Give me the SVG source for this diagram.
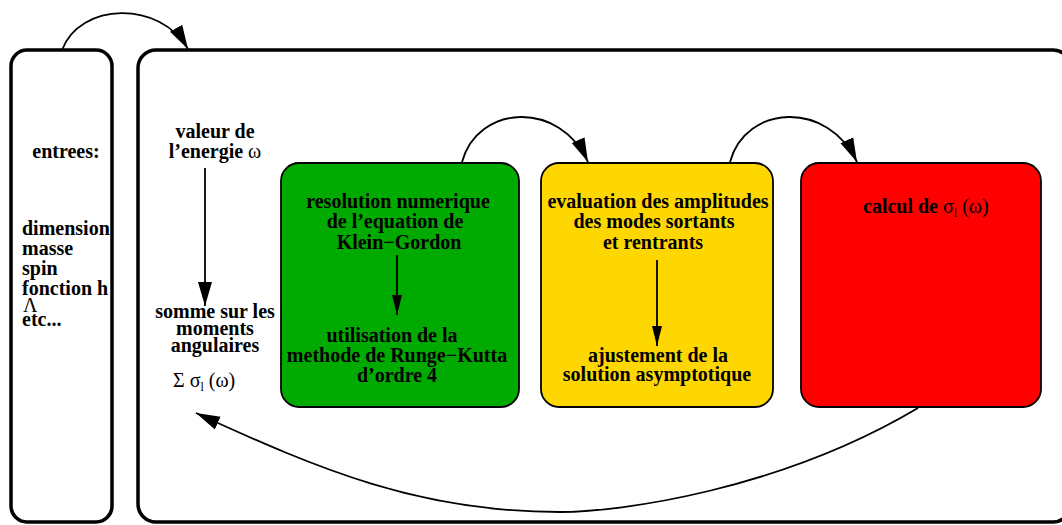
<svg xmlns="http://www.w3.org/2000/svg" width="1062" height="525" viewBox="0 0 1062 525">
<style>
.frame{fill:#fff;stroke:#000;stroke-width:3.5}
.box{stroke:#000;stroke-width:1.8}
.t{font-family:"Liberation Serif","Times New Roman",serif;font-weight:bold;font-size:20px;fill:#000}
.c{text-anchor:middle}
.n{font-weight:normal}
.conn{fill:none;stroke:#000;stroke-width:1.8}
</style>
<defs>
<marker id="big" markerWidth="26" markerHeight="16" refX="24" refY="8" orient="auto" markerUnits="userSpaceOnUse">
<path d="M0,1 L24,8 L0,15 Z" fill="#000"/>
</marker>
<marker id="small" markerWidth="20" markerHeight="10" refX="20" refY="5" orient="auto" markerUnits="userSpaceOnUse">
<path d="M0,0 L20,5 L0,10 Z" fill="#000"/>
</marker>
</defs>
<g id="entrees">
<rect class="frame" x="11" y="50" width="101" height="472" rx="16"/>
<text class="t c" x="66" y="158">entrees:</text>
<text class="t" x="22" y="235">dimension</text>
<text class="t" x="22" y="255">masse</text>
<text class="t" x="22" y="275">spin</text>
<text class="t" x="22" y="295">fonction h</text>
<text class="t n" x="23" y="312" font-size="13">Λ</text>
<text class="t" x="22" y="326">etc...</text>
</g>
<g id="main">
<rect class="frame" x="138" y="50" width="933" height="472" rx="18"/>
<text class="t c" x="215" y="138">valeur de</text>
<text class="t c" x="215" y="158">l’energie <tspan class="n">ω</tspan></text>
<text class="t c" x="215" y="318">somme sur les</text>
<text class="t c" x="215" y="335">moments</text>
<text class="t c" x="215" y="352">angulaires</text>
<text class="t n" x="173" y="387">Σ  σ<tspan font-size="12" dy="4">l</tspan><tspan dy="-4"> (ω)</tspan></text>
</g>
<g id="resolution">
<rect class="box" x="281" y="163" width="238" height="244" rx="18" fill="#00aa00"/>
<text class="t c" x="398" y="208">resolution numerique</text>
<text class="t c" x="395" y="228">de l’equation de</text>
<text class="t c" x="399" y="249">Klein−Gordon</text>
<text class="t c" x="392" y="342">utilisation de la</text>
<text class="t c" x="397" y="362">methode de Runge−Kutta</text>
<text class="t c" x="397" y="382">d’ordre 4</text>
</g>
<g id="evaluation">
<rect class="box" x="541" y="163" width="232" height="244" rx="18" fill="#ffd700"/>
<text class="t c" x="658" y="208">evaluation des amplitudes</text>
<text class="t c" x="654" y="228">des modes sortants</text>
<text class="t c" x="653" y="249">et rentrants</text>
<text class="t c" x="658" y="362">ajustement de la</text>
<text class="t c" x="657" y="381">solution asymptotique</text>
</g>
<g id="calcul">
<rect class="box" x="801" y="163" width="240" height="244" rx="18" fill="#ff0000"/>
<text class="t" x="863" y="213">calcul de <tspan class="n">σ</tspan><tspan class="n" font-size="12" dy="4">l</tspan><tspan class="n" dy="-4"> (ω)</tspan></text>
</g>
<g id="connectors">
<path class="conn" d="M62,50 C80,2 160,0 188,49" marker-end="url(#big)"/>
<path class="conn" d="M205,168 L205,306" marker-end="url(#big)"/>
<path class="conn" d="M397,255 L397,315" marker-end="url(#small)"/>
<path class="conn" d="M657,260 L657,346" marker-end="url(#small)"/>
<path class="conn" d="M462,162 C478,104 560,100 588,162" marker-end="url(#big)"/>
<path class="conn" d="M730,162 C746,104 828,100 857,162" marker-end="url(#big)"/>
<path class="conn" d="M918,408 C780,490 620,512 560,512 C420,512 320,470 196,413" marker-end="url(#big)"/>
</g>
</svg>
